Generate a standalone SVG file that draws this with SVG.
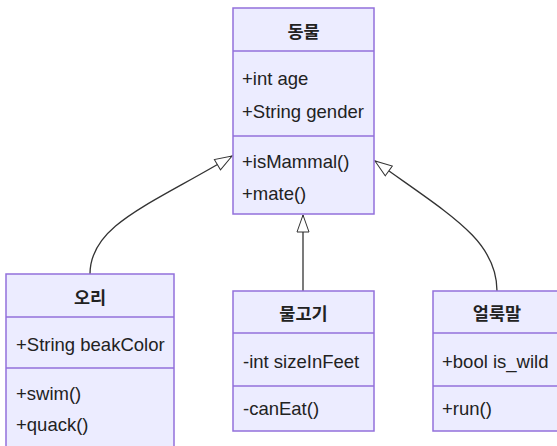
<svg xmlns="http://www.w3.org/2000/svg" width="557" height="446" viewBox="0 0 557 446">
  <style>
    .box { fill: #ECECFF; stroke: #9370DB; stroke-width: 1.5; }
    .div { stroke: #9370DB; stroke-width: 1.5; }
    .title { font-family: "Noto Sans CJK KR", "Liberation Sans", sans-serif; font-weight: bold; font-size: 17.5px; fill: #222; text-anchor: middle; }
    .member { font-family: "Liberation Sans", "Noto Sans CJK KR", sans-serif; font-size: 18.5px; fill: #222; }
    .edge { fill: none; stroke: #333; stroke-width: 1.3; }
  </style>
  <defs>
    <!-- hollow triangle for inheritance -->
    <marker id="extends" viewBox="0 0 20 14" refX="18" refY="7" markerWidth="20" markerHeight="14" markerUnits="userSpaceOnUse" orient="auto">
      <path d="M1,1 V13 L18,7 Z" fill="#fff" stroke="#333" stroke-width="1"/>
    </marker>
  </defs>
  <rect width="557" height="446" fill="#fff"/>

  <g id="connectors">
    <path class="edge" d="M90,274 C90,225 150,205 232,156" marker-end="url(#extends)"/>
    <path class="edge" d="M303,291 L303,215" marker-end="url(#extends)"/>
    <path class="edge" d="M497,291 C497,240 450,215 375,161" marker-end="url(#extends)"/>
  </g>

  <g id="animal">
    <rect class="box" x="233" y="8" width="141" height="206"/>
    <line class="div" x1="233" y1="51" x2="374" y2="51"/>
    <line class="div" x1="233" y1="136" x2="374" y2="136"/>
    <text class="title" x="303.5" y="37.5">동물</text>
    <text class="member" x="242" y="85">+int age</text>
    <text class="member" x="242" y="118">+String gender</text>
    <text class="member" x="242" y="168">+isMammal()</text>
    <text class="member" x="242" y="200">+mate()</text>
  </g>

  <g id="duck">
    <rect class="box" x="6" y="274" width="168" height="178"/>
    <line class="div" x1="6" y1="317" x2="174" y2="317"/>
    <line class="div" x1="6" y1="368" x2="174" y2="368"/>
    <text class="title" x="90" y="303.5">오리</text>
    <text class="member" x="16" y="351">+String beakColor</text>
    <text class="member" x="16" y="400">+swim()</text>
    <text class="member" x="16" y="431">+quack()</text>
  </g>

  <g id="fish">
    <rect class="box" x="233" y="291" width="141" height="140"/>
    <line class="div" x1="233" y1="333" x2="374" y2="333"/>
    <line class="div" x1="233" y1="386" x2="374" y2="386"/>
    <text class="title" x="303.5" y="319.5">물고기</text>
    <text class="member" x="243" y="368">-int sizeInFeet</text>
    <text class="member" x="243" y="415">-canEat()</text>
  </g>

  <g id="zebra">
    <rect class="box" x="433" y="291" width="128" height="140"/>
    <line class="div" x1="433" y1="333" x2="561" y2="333"/>
    <line class="div" x1="433" y1="386" x2="561" y2="386"/>
    <text class="title" x="497" y="319.5">얼룩말</text>
    <text class="member" x="442" y="368">+bool is_wild</text>
    <text class="member" x="442" y="415">+run()</text>
  </g>
</svg>
